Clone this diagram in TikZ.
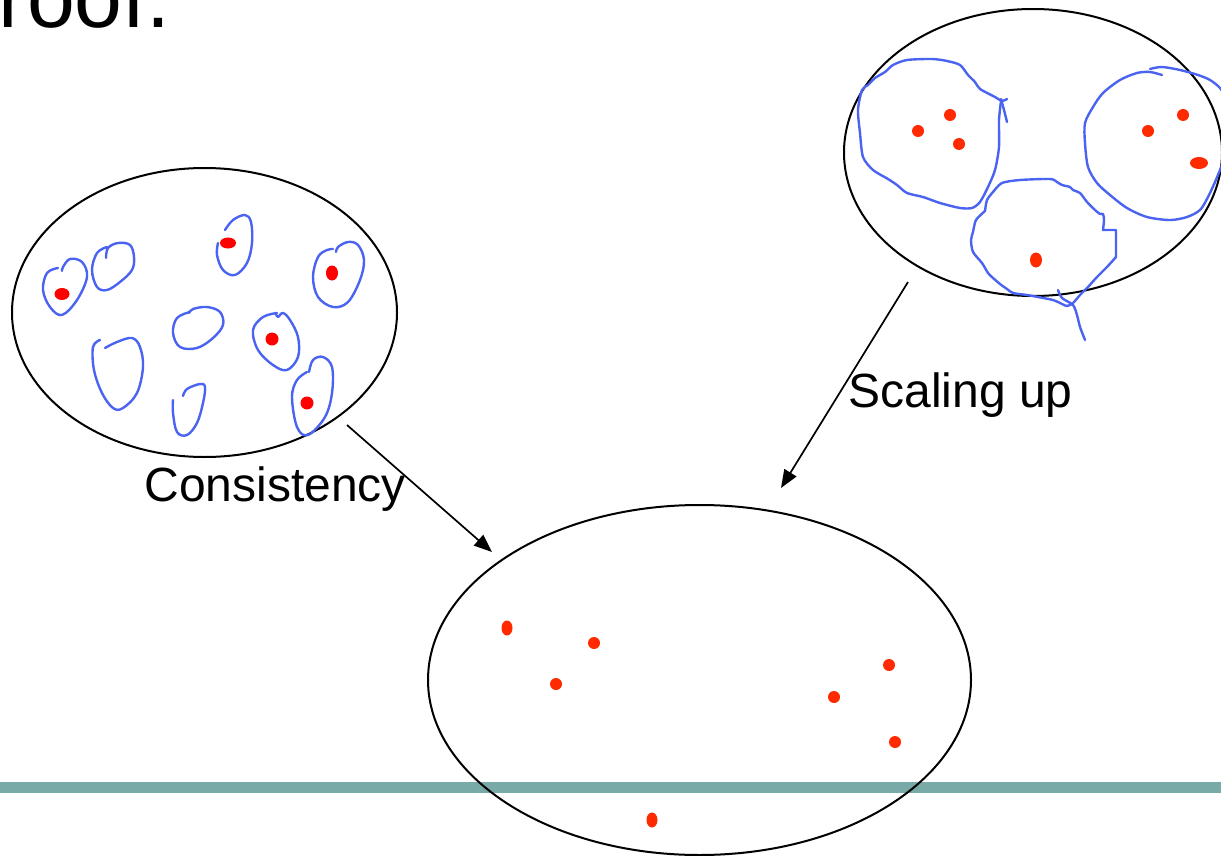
\documentclass[tikz,border=0pt]{standalone}
\usepackage{fontspec}
\setmainfont{Liberation Sans}
\usetikzlibrary{arrows.meta}
\definecolor{loopblue}{HTML}{4A63F0}
\definecolor{dotred}{HTML}{FF0000}
\definecolor{dotorange}{HTML}{FF2A00}
\definecolor{rulecol}{HTML}{78AAA7}
\begin{document}
\begin{tikzpicture}[x=0.5pt,y=-0.5pt,
  bigell/.style={draw=black,line width=1pt},
  loopline/.style={draw=loopblue,line width=1.2pt,line cap=round,line join=round},
  arr/.style={draw=black,line width=0.85pt,-{Triangle[length=9pt,width=7pt]}},
  lbl/.style={anchor=base west,inner sep=0pt,font=\fontsize{24}{28}\selectfont},
  dotL/.style={fill=dotred},
  dotO/.style={fill=dotorange}]
\clip (0,0) rectangle (1221,856);
% title fragment
\node[anchor=base west,inner sep=0pt,font=\fontsize{43}{50}\selectfont] (title) at (-2,28) {roof.};
% rule
\fill[rulecol] (0,781.5) rectangle (1221,792.5);
% big ellipses
\draw[bigell] (204.5,312.5) ellipse [x radius=192.5, y radius=144.5];
\draw[bigell] (1033,152.5) ellipse [x radius=189, y radius=143.5];
\draw[bigell] (699.5,680) ellipse [x radius=271.5, y radius=175];
% left loops
\draw[loopline] plot[smooth,tension=0.6] coordinates {(58,268) (47,273) (43,290) (50,307) (62,315) (77,300) (87,277) (82,262) (70,259) (63,267) (62,271)};
\draw[loopline] plot[smooth,tension=0.6] coordinates {(106,258) (108,248) (118,243) (130,245) (134,257) (132,270) (120,282) (107,290) (97,287) (92,270) (97,253) (107,247)};
\draw[loopline] plot[smooth,tension=0.6] coordinates {(225,230) (233,220) (245,215) (251,222) (252,243) (247,263) (235,275) (223,270) (217,255) (218,243)};
\draw[loopline] plot[smooth,tension=0.6] coordinates {(333,249) (327,250) (318,257) (313,277) (318,297) (333,307) (348,302) (360,280) (364,260) (358,245) (348,242) (338,247) (336,252)};
\draw[loopline] plot[smooth,tension=0.6] coordinates {(189,313) (193,309) (207,307) (220,312) (223,325) (213,338) (197,348) (180,347) (173,333) (177,318) (190,312)};
\draw[loopline] plot[smooth,tension=0.6] coordinates {(276,314) (278,317) (283,313) (290,320) (298,337) (298,357) (287,370) (273,365) (258,350) (253,330) (263,317) (277,313)};
\draw[loopline] plot[smooth,tension=0.6] coordinates {(309,372) (313,360) (323,357) (332,367) (332,393) (325,417) (308,435) (297,427) (292,397) (297,380) (307,372)};
\draw[loopline] plot[smooth,tension=0.6] coordinates {(105,348) (117,342) (132,338) (140,347) (143,367) (137,393) (123,408) (113,408) (102,393) (94,370) (93,347) (100,340)};
\draw[loopline] plot[smooth,tension=0.6] coordinates {(183,396) (187,389) (200,384) (205,387) (203,403) (197,423) (187,435) (177,432) (173,413) (173,400)};
% left dots
\fill[dotL] (62,294) ellipse [x radius=7.5, y radius=6];
\fill[dotL] (228,243) ellipse [x radius=8, y radius=5.5];
\fill[dotL] (332,273) ellipse [x radius=6, y radius=7.5];
\fill[dotL] (272,339) ellipse [x radius=6.5, y radius=6.5];
\fill[dotL] (307,403) ellipse [x radius=6.5, y radius=6.5];
% top-right clusters
\draw[loopline] plot[smooth,tension=0.45] coordinates {(1001,101) (999,120) (999,147) (995,170) (988,187) (980,202) (972,208) (960,208) (940,203) (923,197) (907,193) (897,185) (888,179) (873,170) (863,157) (860,133) (858,110) (862,90) (868,85) (875,78) (885,72) (893,65) (907,60) (932,59) (947,61) (960,65) (968,75) (975,82) (980,89) (995,97) (1002,101) (1007,99)};
\draw[loopline] plot[smooth,tension=0.45] coordinates {(1001,99) (1004,110) (1007,122)};
\draw[loopline] plot[smooth,tension=0.45] coordinates {(985,211) (987,200) (993,192) (1002,183) (1020,180) (1050,179) (1057,182) (1062,185) (1070,187) (1073,190) (1080,193) (1087,202) (1095,210) (1100,214) (1103,214) (1104,220) (1103,230)} -- (1116,230) -- plot[smooth,tension=0.45] coordinates {(1116,257) (1107,267) (1097,277) (1088,287) (1080,295) (1073,303) (1067,306) (1060,303) (1053,300) (1038,297) (1027,295) (1013,293) (1007,289) (1000,284) (993,278) (988,273) (982,263) (973,252) (971,240) (973,232) (976,220) (985,211)};
\draw[loopline] plot[smooth,tension=0.45] coordinates {(1058,290) (1062,298) (1073,305) (1077,315) (1080,327) (1085,340)};
\draw[loopline] plot[smooth,tension=0.5] coordinates {(1162,75) (1150,72) (1137,73) (1120,80) (1103,93) (1093,107) (1085,123) (1085,143) (1088,167) (1097,183) (1110,195) (1127,208) (1147,217) (1170,220) (1187,217) (1200,210) (1208,197) (1215,182) (1220,170) (1226,155)};
\draw[loopline] plot[smooth,tension=0.5] coordinates {(1150,69) (1162,67) (1180,70) (1198,75) (1210,80) (1220,88) (1228,100)};
% top-right dots
\fill[dotO] (918,131) circle [radius=6];
\fill[dotO] (950,115) circle [radius=6];
\fill[dotO] (959,144) circle [radius=6];
\fill[dotO] (1148,131) circle [radius=6];
\fill[dotO] (1183,115) circle [radius=6];
\fill[dotO] (1199,163) ellipse [x radius=9, y radius=6];
\fill[dotO] (1036,260) ellipse [x radius=6, y radius=7.5];
% bottom dots
\fill[dotO] (507,628) ellipse [x radius=5.5, y radius=7.5];
\fill[dotO] (594,643) circle [radius=6];
\fill[dotO] (556,684) circle [radius=6];
\fill[dotO] (889,665) circle [radius=6];
\fill[dotO] (834,697) circle [radius=6];
\fill[dotO] (895,742) circle [radius=6];
\fill[dotO] (652,820) ellipse [x radius=5.5, y radius=7.5];
% labels
\node[lbl] (cons) at (144,501) {Consistency};
\node[lbl] (scal) at (848,407) {Scaling up};
% arrows
\coordinate (a1s) at (347,425);
\coordinate (a1e) at (492,552);
\coordinate (a2s) at (908,282);
\coordinate (a2e) at (781,488);
\draw[arr] (a1s) -- (a1e);
\draw[arr] (a2s) -- (a2e);
\end{tikzpicture}
\end{document}
